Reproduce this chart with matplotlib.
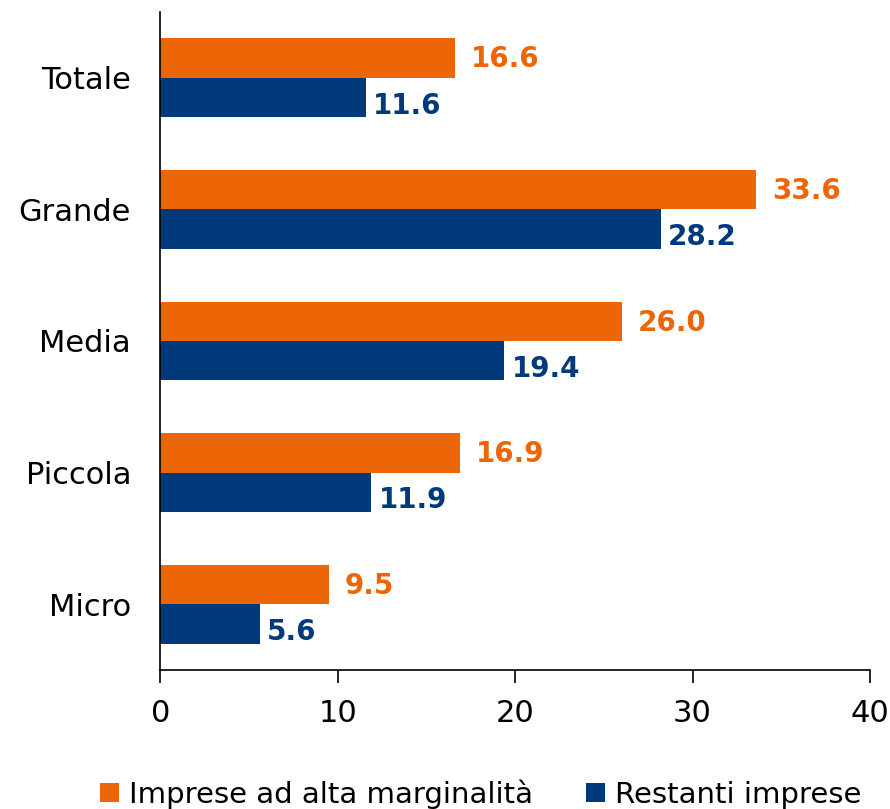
"""Horizontal bar chart: imprese ad alta marginalità vs restanti imprese per classe dimensionale."""

import matplotlib
matplotlib.use("Agg")
import matplotlib.pyplot as plt
import numpy as np

CATEGORIES = ["Totale", "Grande", "Media", "Piccola", "Micro"]
ALTA_MARGINALITA = [16.6, 33.6, 26.0, 16.9, 9.5]
RESTANTI = [11.6, 28.2, 19.4, 11.9, 5.6]
SERIES_LABELS = ["Imprese ad alta marginalità", "Restanti imprese"]
X_TICKS = [0, 10, 20, 30, 40]

ORANGE = "#EC6608"
BLUE = "#003A7A"

plt.rcParams["font.family"] = ["DejaVu Sans"]

fig = plt.figure(figsize=(8.9, 8.09), dpi=100)
ax = fig.add_axes([0.18, 0.172, 0.7975, 0.813])

y = np.arange(len(CATEGORIES))
h = 0.30
ax.barh(y - h / 2, ALTA_MARGINALITA, height=h, color=ORANGE, label=SERIES_LABELS[0])
ax.barh(y + h / 2, RESTANTI, height=h, color=BLUE, label=SERIES_LABELS[1])

for yi, v in zip(y, ALTA_MARGINALITA):
    ax.text(v + 0.9, yi - h / 2 + 0.01, f"{v:.1f}", va="center", ha="left",
            color=ORANGE, fontsize=20, fontweight="bold")
for yi, v in zip(y, RESTANTI):
    ax.text(v + 0.4, yi + h / 2 + 0.06, f"{v:.1f}", va="center", ha="left",
            color=BLUE, fontsize=20, fontweight="bold")

ax.set_ylim(len(CATEGORIES) - 0.5, -0.5)
ax.set_xlim(0, 40)
ax.set_yticks(y)
ax.set_yticklabels(CATEGORIES, fontsize=22)
ax.set_xticks(X_TICKS)
ax.set_xticklabels([str(t) for t in X_TICKS], fontsize=22)
ax.tick_params(axis="y", length=0, pad=21)
ax.tick_params(axis="x", length=9, width=1.2, pad=12)
for side in ("top", "right"):
    ax.spines[side].set_visible(False)
ax.spines["left"].set_linewidth(1.2)
ax.spines["bottom"].set_linewidth(1.2)

fig.legend(loc="lower center", bbox_to_anchor=(0.54, -0.032), ncol=2, frameon=False,
           fontsize=21, handlelength=0.65, handleheight=0.65, handletextpad=0.35,
           columnspacing=1.8)

fig.savefig("out.png", dpi=100)
